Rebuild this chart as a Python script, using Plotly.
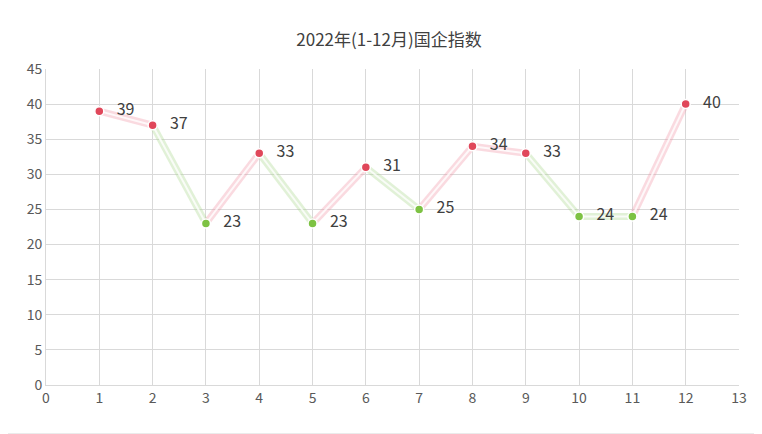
import plotly.graph_objects as go

months = list(range(1, 13))
values = [39, 37, 23, 33, 23, 31, 25, 34, 33, 24, 24, 40]
point_kind = ["r", "r", "g", "r", "g", "r", "g", "r", "r", "g", "g", "r"]

RED = "#e0475a"
GREEN = "#7dc243"
fig = go.Figure()
for i in range(len(months) - 1):
    c = "rgba(240,150,165,0.35)" if point_kind[i + 1] == "r" else "rgba(170,215,140,0.35)"
    fig.add_trace(go.Scatter(x=months[i:i + 2], y=values[i:i + 2], mode="lines",
                             line=dict(color=c, width=7), hoverinfo="skip", showlegend=False))
    fig.add_trace(go.Scatter(x=months[i:i + 2], y=values[i:i + 2], mode="lines",
                             line=dict(color="rgba(255,255,255,0.8)", width=2), hoverinfo="skip", showlegend=False))
fig.add_trace(go.Scatter(
    x=months, y=values, mode="markers+text",
    marker=dict(size=9, color=[RED if k == "r" else GREEN for k in point_kind],
                line=dict(color="white", width=1.5)),
    text=["   " + str(v) for v in values], textposition="middle right",
    textfont=dict(size=16, color="#404040", family="Noto Sans CJK SC"),
    showlegend=False))
fig.update_traces(cliponaxis=False)

fig.update_layout(
    width=762, height=434, paper_bgcolor="white", plot_bgcolor="white",
    margin=dict(l=38, r=31, t=61, b=57),
    title=dict(text="2022年(1-12月)国企指数", x=0.5, y=0.94, xanchor="center",
               font=dict(size=17, color="#404040", family="Noto Sans CJK SC")),
    font=dict(family="Noto Sans CJK SC", color="#595959", size=14),
    xaxis=dict(range=[0, 13], dtick=1, tick0=0, showgrid=True, gridcolor="#d9d9d9",
               zeroline=False, showline=True, linecolor="#d9d9d9", ticks=""),
    yaxis=dict(range=[0, 45], dtick=5, showgrid=True, gridcolor="#d9d9d9",
               zeroline=False, showline=True, linecolor="#d9d9d9", ticks=""),
    shapes=[dict(type="rect", xref="paper", yref="paper", x0=-0.0635, x1=1.033, y0=-0.155, y1=1.212,
                 line=dict(color="#d9d9d9", width=1))],
)
fig.write_html("out.html")
